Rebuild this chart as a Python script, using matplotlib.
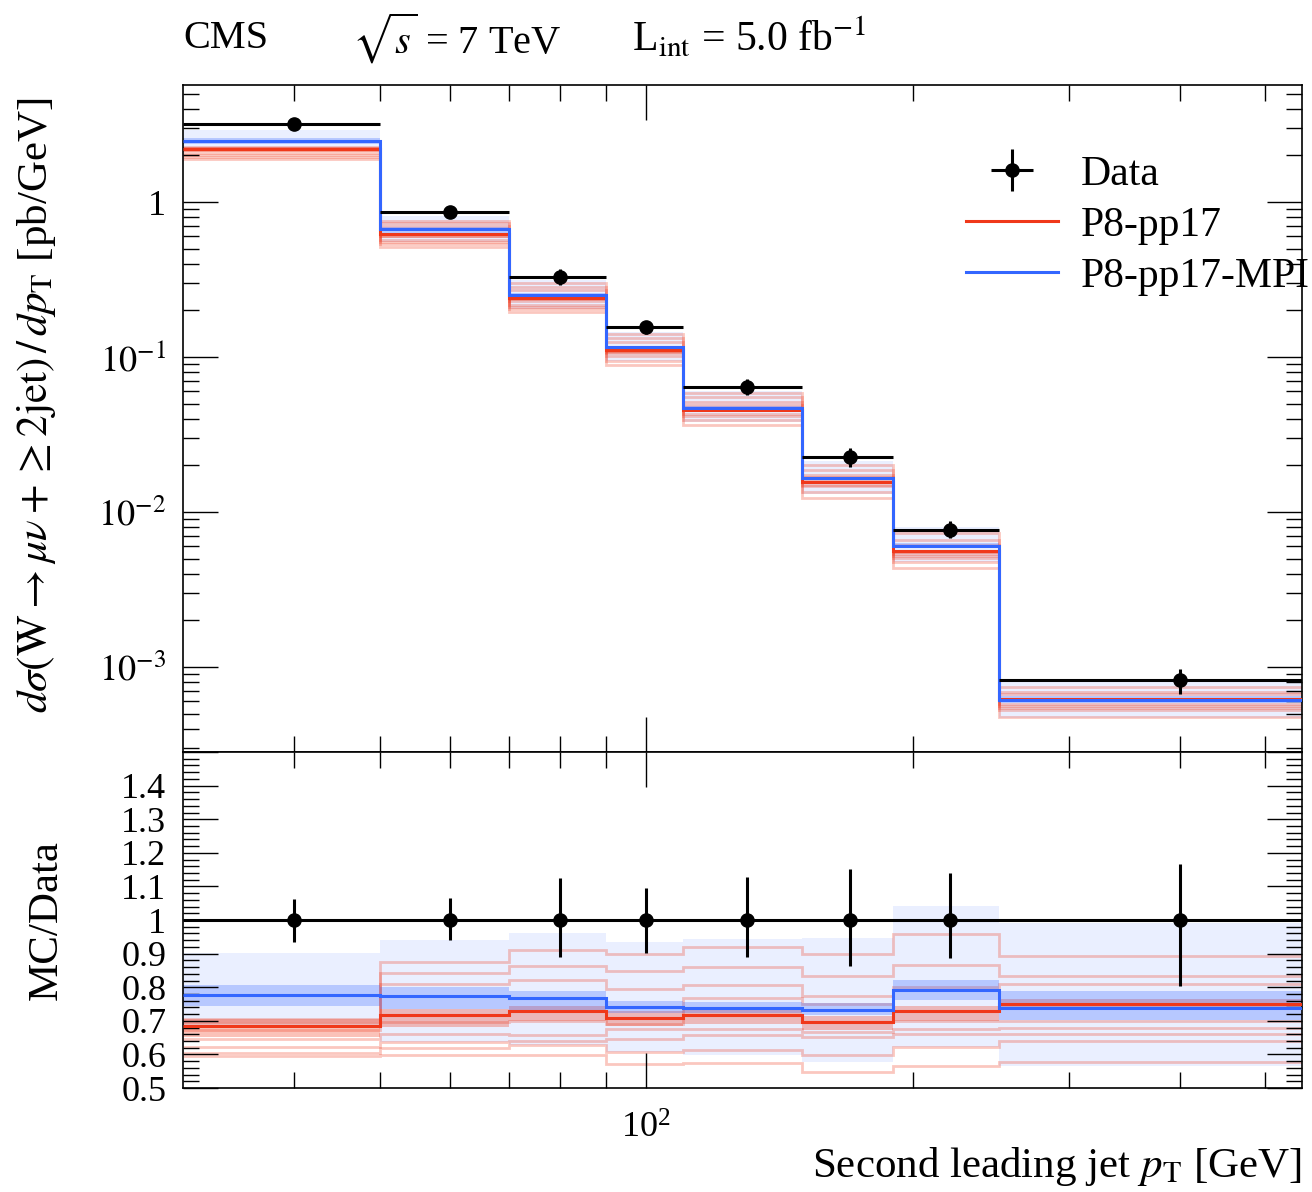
import numpy as np
import matplotlib
matplotlib.use('Agg')
import matplotlib.pyplot as plt
from matplotlib.ticker import FixedLocator, NullFormatter, FuncFormatter, MultipleLocator, LogLocator

plt.rcParams['font.family'] = ['Liberation Serif', 'DejaVu Serif']
plt.rcParams['mathtext.fontset'] = 'stix'

# second leading jet pT bins [GeV]
edges = np.array([30, 50, 70, 90, 110, 150, 190, 250, 550])
centers = np.array([40, 60, 80, 100, 130, 170, 220, 400])

# measured cross section [pb/GeV] and relative uncertainties
data = np.array([3.21, 0.864, 0.328, 0.156, 0.0638, 0.0225, 0.00768, 0.000830])
rel_err_up = np.array([0.062, 0.065, 0.125, 0.096, 0.128, 0.152, 0.139, 0.166])
rel_err_dn = np.array([0.065, 0.058, 0.111, 0.098, 0.111, 0.136, 0.114, 0.195])

# MC / Data, central predictions
ratio_p8 = np.array([0.684, 0.716, 0.729, 0.709, 0.718, 0.696, 0.728, 0.751])
ratio_mpi = np.array([0.776, 0.773, 0.769, 0.741, 0.739, 0.733, 0.791, 0.739])

# uncertainty bands (MC / Data)
mpi_env_lo = np.array([0.680, 0.637, 0.627, 0.607, 0.597, 0.577, 0.622, 0.567])
mpi_env_hi = np.array([0.903, 0.940, 0.960, 0.935, 0.945, 0.947, 1.042, 0.990])
mpi_band_lo = np.array([0.743, 0.736, 0.722, 0.722, 0.722, 0.717, 0.761, 0.703])
mpi_band_hi = np.array([0.806, 0.800, 0.790, 0.760, 0.755, 0.752, 0.821, 0.789])
p8_band_lo = np.array([0.651, 0.682, 0.700, 0.685, 0.690, 0.672, 0.700, 0.735])
p8_band_hi = np.array([0.707, 0.736, 0.745, 0.730, 0.735, 0.715, 0.745, 0.765])

# P8-pp17 variations (MC / Data)
p8_vars = [
    [0.706, 0.876, 0.910, 0.900, 0.920, 0.900, 0.957, 0.893],
    [0.697, 0.843, 0.863, 0.848, 0.861, 0.833, 0.866, 0.833],
    [0.684, 0.809, 0.821, 0.796, 0.806, 0.774, 0.800, 0.811],
    [0.672, 0.697, 0.700, 0.690, 0.768, 0.750, 0.701, 0.700],
    [0.647, 0.662, 0.657, 0.677, 0.677, 0.667, 0.677, 0.679],
    [0.622, 0.637, 0.640, 0.647, 0.657, 0.652, 0.660, 0.660],
    [0.604, 0.620, 0.627, 0.607, 0.612, 0.597, 0.622, 0.640],
    [0.594, 0.597, 0.597, 0.572, 0.574, 0.547, 0.567, 0.577],
]

red = '#f0381a'
blue = '#3366ff'

fig = plt.figure(figsize=(13.12, 11.92), dpi=100)
ax1 = fig.add_axes([0.1395, 0.3691, 0.8529, 0.5596])
ax2 = fig.add_axes([0.1395, 0.0872, 0.8529, 0.2819])


def draw_mc(ax, scale):
    ax.stairs(mpi_env_hi * scale, edges, baseline=mpi_env_lo * scale, fill=True,
              color=blue, alpha=0.1, lw=0)
    ax.stairs(p8_band_hi * scale, edges, baseline=p8_band_lo * scale, fill=True,
              color=red, alpha=0.3, lw=0)
    for v in p8_vars:
        ax.stairs(np.array(v) * scale, edges, baseline=None, color=red, alpha=0.28, lw=2)
    ax.stairs(mpi_band_hi * scale, edges, baseline=mpi_band_lo * scale, fill=True,
              color=blue, alpha=0.28, lw=0)
    ax.stairs(ratio_p8 * scale, edges, baseline=None, color=red, lw=2.2,
              label='P8-pp17', zorder=4)
    ax.stairs(ratio_mpi * scale, edges, baseline=None, color=blue, lw=2.2,
              label='P8-pp17-MPI', zorder=5)


# upper panel
draw_mc(ax1, data)
ax1.errorbar(centers, data, xerr=[centers - edges[:-1], edges[1:] - centers],
             yerr=[data * rel_err_dn, data * rel_err_up], fmt='o', color='k',
             ms=9.5, lw=2.2, capsize=0, zorder=6, label='Data')

# lower panel
ratio_data = data / data
draw_mc(ax2, 1.0)
ax2.stairs(ratio_data, edges, baseline=None, color='k', lw=2.2, zorder=6)
ax2.errorbar(centers, ratio_data, yerr=[rel_err_dn, rel_err_up], fmt='o', color='k',
             ms=9.5, lw=2.2, capsize=0, zorder=7)

for ax in (ax1, ax2):
    ax.set_xscale('log')
    ax.set_xlim(30, 550)
    ax.xaxis.set_major_locator(FixedLocator([100]))
    ax.xaxis.set_minor_locator(FixedLocator([40, 50, 60, 70, 80, 90, 200, 300, 400, 500]))
    ax.xaxis.set_minor_formatter(NullFormatter())
    ax.tick_params(which='both', direction='in', top=True, right=True, width=1.0,
                   labelsize=26, pad=12)
    ax.tick_params(which='major', length=25)
    ax.tick_params(which='minor', length=11.5)
    for s in ax.spines.values():
        s.set_linewidth(1.2)

ax1.set_yscale('log')
ax1.set_ylim(2.83e-4, 5.69)
ax1.yaxis.set_major_locator(LogLocator(base=10))
ax1.yaxis.set_minor_locator(LogLocator(base=10, subs=np.arange(2, 10)))
ax1.yaxis.set_minor_formatter(NullFormatter())
ax1.yaxis.set_major_formatter(FuncFormatter(
    lambda v, p: '1' if abs(v - 1) < 1e-9 else r'$10^{%d}$' % round(np.log10(v))))
ax1.xaxis.set_major_formatter(NullFormatter())
ax1.set_ylabel(r'$d\sigma(\mathrm{W} \rightarrow \mu\nu + \geq 2\mathrm{jet})\,/\,dp_{\mathrm{T}}$ [pb/GeV]',
               fontsize=31)
ax1.yaxis.set_label_coords(-0.112, 0.52)

ax2.set_ylim(0.5, 1.5)
ax2.yaxis.set_major_locator(MultipleLocator(0.1))
ax2.yaxis.set_minor_locator(MultipleLocator(0.02))
ax2.yaxis.set_major_formatter(FuncFormatter(
    lambda v, p: '' if v > 1.45 else '%g' % round(v, 2)))
ax2.tick_params(axis='x', which='major', pad=18)
ax2.set_ylabel('MC/Data', fontsize=31)
ax2.yaxis.set_label_coords(-0.105, 0.5)
ax2.set_xlabel(r'Second leading jet $p_{\mathrm{T}}$ [GeV]', fontsize=31, loc='right')
ax2.xaxis.set_label_coords(1.0, -0.17)

handles, labels = ax1.get_legend_handles_labels()
order = [labels.index('Data'), labels.index('P8-pp17'), labels.index('P8-pp17-MPI')]
ax1.legend([handles[i] for i in order], [labels[i] for i in order],
           loc='upper left', bbox_to_anchor=(0.70, 0.895), frameon=False, fontsize=30,
           handlelength=2.2, handletextpad=0.55, labelspacing=0.3, borderpad=0,
           borderaxespad=0)

fig.text(0.1395, 0.968, 'CMS', fontsize=29, va='center')
fig.text(0.268, 0.968, r'$\sqrt{s}$ = 7 TeV', fontsize=29, va='center')
fig.text(0.482, 0.968, r'L$_{\mathrm{int}}$ = 5.0 fb$^{-1}$', fontsize=30, va='center')

fig.savefig('out.png', dpi=100)
